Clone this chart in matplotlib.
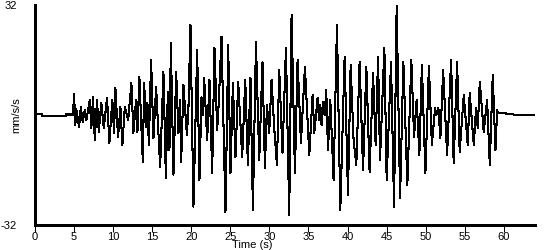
import matplotlib
matplotlib.use("Agg")
import matplotlib.pyplot as plt

# Time (s) and acceleration (mm/s/s) (extremes)
time_s = [0.0, 0.86, 0.87, 3.93, 3.94, 4.87,
          5.00, 5.16, 5.29, 5.64, 5.86, 6.11, 6.37, 6.57, 7.01, 7.21, 7.43, 7.65, 7.94, 8.16,
          8.49, 8.80, 9.22, 9.52, 9.90, 10.12, 10.29, 10.63, 10.93, 11.19, 11.49, 11.92, 12.34,
          12.59, 12.94, 13.11, 13.36, 13.80, 13.97, 14.22, 14.39, 14.57, 14.86, 15.16, 15.50,
          16.02, 16.44, 16.75, 17.00, 17.21, 17.39, 17.72, 18.07, 18.36, 18.58, 18.71, 19.00,
          19.44, 19.64, 19.90, 20.28,
          20.76, 21.05, 21.31, 21.52, 21.65, 22.04, 22.33, 22.68, 22.97, 23.32, 23.54, 23.87,
          24.38, 24.73, 25.02, 25.33, 25.66, 26.01, 26.30, 26.52, 26.91, 27.25, 27.58, 27.89, 28.28,
          28.70, 29.12, 29.43, 29.69, 29.98, 30.28, 30.62, 30.97, 31.26, 31.68, 32.12, 32.54,
          32.84, 33.27, 33.61, 34.04, 34.55, 35.11, 35.53, 35.75, 36.17,
          36.35, 36.52, 36.68, 36.86, 37.07, 37.28, 37.50, 37.80, 38.22, 38.65, 39.08, 39.63,
          40.06, 40.40, 40.78, 41.13, 41.55, 41.99, 42.41, 42.83, 43.27, 43.60, 43.91,
          44.16, 44.72, 45.01, 45.57, 45.96, 46.29, 46.73, 47.15, 47.66, 48.17, 48.52, 48.85,
          49.20, 49.52, 49.97, 50.42, 50.80, 51.21, 51.38, 51.63, 51.89,
          52.24, 52.75, 53.26, 53.59, 54.03, 54.36, 54.88, 55.39, 55.64, 56.16, 56.45, 56.67,
          56.93, 57.44, 57.87, 58.21, 58.59, 58.94, 59.15, 59.26, 61.1, 61.4, 64.0]
accel = [0.3, 0.3, -0.3, -0.3, 0.15, 0.15,
         6.1, -2.9, 1.7, -3.5, 2.3, -2.0, 1.5, -1.5, 4.4, -3.8, 5.2, -7.3, 4.4, -4.9,
         3.5, -3.8, 4.9, -8.1, 4.4, -5.2, 7.8, -6.4, 2.3, -8.7, 2.3, -1.5, 9.3,
         -5.2, 4.4, -4.9, 11.0, -13.7, 9.3, -3.5, 3.5, -8.7, 16.0, -6.7, 8.1,
         -15.1, 12.5, -18.3, 6.7, -10.2, 20.9, -17.4, 12.5, -5.2, 4.4, -13.7, 8.7,
         -5.8, 2.0, 26.2, -26.7,
         18.9, -18.9, 5.2, 0.0, 10.8, -7.3, 10.2, -16.9, 19.5, -4.4, 4.4, 22.7,
         -28.2, 20.3, -16.9, 9.3, -12.2, 9.6, -2.9, -12.2, 10.2, -14.5, 10.8, -27.6, 21.2,
         -13.1, 15.4, -15.4, 2.9, -5.2, 10.2, -3.8, -14.5, 13.1, -11.0, 19.5, -29.1,
         29.1, -16.9, 16.0, -8.1, 14.0, -11.6, 5.8, -5.2, 4.9,
         -1.5, 2.9, -2.9, 3.8, 0.0, 7.3, -10.2, 4.4, -18.9, 26.2, -27.6, 16.9,
         -23.3, 14.5, -7.3, -14.5, 15.4, -16.0, 14.0, -16.6, 12.2, -8.7, 16.9,
         -13.1, 19.5, -18.9, 15.4, -26.7, 31.7, -24.1, 15.4, -20.3, 16.0, -6.4, 4.4,
         -11.6, 14.5, -16.9, 14.2, -8.7, 2.0, 0.0, 2.0, -6.7,
         13.1, -11.6, 16.0, -14.0, 15.4, -10.8, 5.8, -8.7, 6.4, -8.7, 2.0, -3.8,
         9.6, -4.9, 4.4, -14.5, 11.6, -10.2, 1.5, 0.6, 0.3, 0.0, 0.0]

x_ticks = list(range(0, 65, 5))
y_ticks = [-32, 32]

plt.rcParams['font.family'] = ['Liberation Sans', 'DejaVu Sans']

fig = plt.figure(figsize=(5.5, 2.5), dpi=100)
ax = fig.add_axes([35 / 550, 25 / 250, 500 / 550, 220 / 250])
ax.plot(time_s, accel, color='black', lw=0.75, antialiased=False)

ax.set_xlim(0, 64)
ax.set_ylim(-32, 32)
for s in ('top', 'right'):
    ax.spines[s].set_visible(False)
for s in ('left', 'bottom'):
    ax.spines[s].set_linewidth(0.75)
    ax.spines[s].set_antialiased(False)

ax.set_xticks(x_ticks)
ax.set_xticklabels([str(v) for v in x_ticks], fontsize=8)
ax.tick_params(axis='x', direction='out', length=5, width=0.75, pad=0)
ax.set_yticks(y_ticks)
ax.set_yticklabels([str(v) for v in y_ticks], fontsize=8)
ax.tick_params(axis='y', length=0, pad=13)
ax.set_yticks([-32], minor=True)
ax.tick_params(axis='y', which='minor', length=5, width=0.75)

ax.set_xlabel('Time (s)', fontsize=8, labelpad=0)
ax.xaxis.set_label_coords(0.434, -0.07)
ax.set_ylabel('mm/s/s', fontsize=8)
ax.yaxis.set_label_coords(-0.028, 0.5)

fig.savefig('out.png', dpi=100)
